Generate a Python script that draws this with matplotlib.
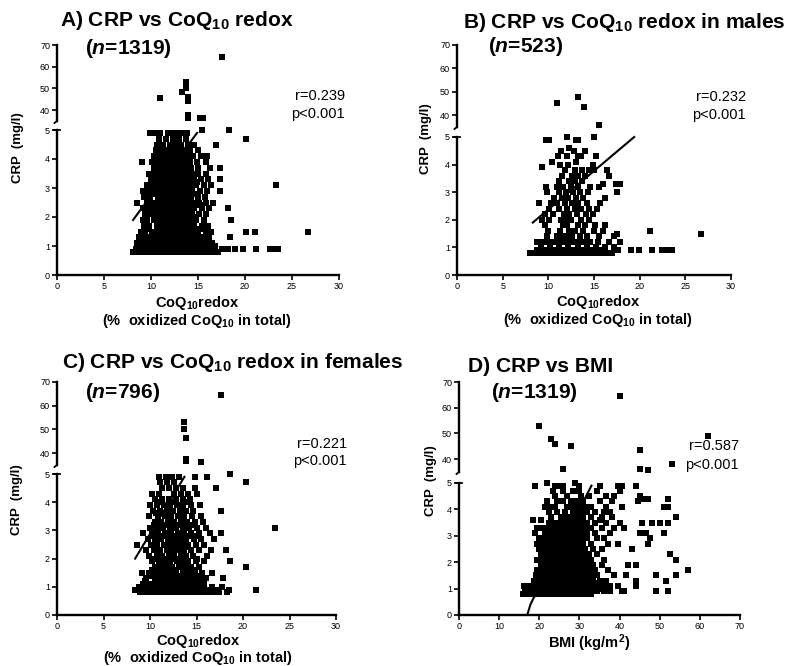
import matplotlib
matplotlib.use('Agg')
import matplotlib.pyplot as plt
from matplotlib.lines import Line2D

plt.rcParams['font.family'] = ['Liberation Sans', 'DejaVu Sans']
plt.rcParams['mathtext.fontset'] = 'custom'
plt.rcParams['mathtext.rm'] = 'Liberation Sans'
plt.rcParams['mathtext.bf'] = 'Liberation Sans:bold'
plt.rcParams['mathtext.it'] = 'Liberation Sans:italic:bold'

# ---------------- data ----------------
# Panel A: CRP vs CoQ10 redox (all), rows = (CRP, [redox values])
a_rows = [
    (0.8, [8.1, 8.6, 9.1, 9.6, 10.1, 10.6, 11.1, 11.6, 12.1, 12.6, 13.1, 13.6, 14.1, 14.6, 15.1, 15.6, 16.1, 16.6, 17.1]),
    (0.9, [8.4, 9.3, 10.3, 11.3, 12.3, 13.3, 14.3, 15.3, 16.3, 17.5, 18.2, 18.9, 19.8, 21.2, 22.7, 23.2, 23.5]),
    (1.0, [8.8, 9.8, 10.8, 11.8, 12.8, 13.8, 14.8, 15.8, 16.8]),
    (1.1, [8.5, 9.0, 9.5, 10.0, 10.5, 11.0, 11.5, 12.0, 12.5, 13.0, 13.5, 14.0, 14.5, 15.0, 15.5, 16.0, 16.5]),
    (1.2, [9.0, 10.0, 11.0, 12.0, 13.0, 14.0, 15.0, 16.0]),
    (1.3, [8.7, 9.2, 9.7, 10.2, 10.7, 11.2, 11.7, 12.2, 12.7, 13.2, 13.7, 14.2, 14.7, 15.2, 15.7, 16.2, 18.4]),
    (1.4, [9.2, 10.4, 11.5, 12.5, 13.6, 14.8, 16.0]),
    (1.5, [8.9, 9.4, 10.1, 10.6, 11.3, 11.8, 12.3, 12.8, 13.4, 13.9, 14.5, 15.0, 15.8, 16.4, 20.1, 21.1, 26.7]),
    (1.6, [9.6, 10.9, 12.0, 13.0, 14.0, 15.2]),
    (1.7, [9.3, 9.8, 10.6, 11.1, 11.6, 12.1, 12.6, 13.1, 13.6, 14.1, 14.6, 15.4, 16.1]),
    (1.9, [9.1, 9.6, 10.3, 11.0, 11.5, 12.0, 12.5, 13.0, 13.6, 14.2, 14.8, 15.6, 18.5]),
    (2.0, [10.3, 11.4, 12.4, 13.5, 14.6]),
    (2.1, [9.4, 10.0, 10.5, 11.2, 11.7, 12.2, 12.7, 13.3, 13.8, 14.4, 15.1, 15.9]),
    (2.3, [9.2, 9.8, 10.4, 10.9, 11.4, 11.9, 12.4, 12.9, 13.5, 14.0, 14.6, 15.4, 16.2, 18.2]),
    (2.4, [10.1, 11.1, 12.1, 13.1, 14.2, 15.2]),
    (2.5, [8.5, 9.6, 10.2, 10.8, 11.3, 11.8, 12.3, 12.8, 13.3, 13.9, 14.5, 15.1, 15.8, 16.6]),
    (2.7, [9.3, 9.9, 10.7, 11.2, 11.7, 12.2, 12.7, 13.2, 13.7, 14.3, 15.0, 15.7]),
    (2.8, [10.4, 11.5, 12.4, 13.5, 14.6]),
    (2.9, [9.1, 9.8, 10.4, 11.0, 11.6, 12.1, 12.6, 13.2, 13.8, 14.4, 15.2, 16.0, 17.3]),
    (3.1, [9.6, 10.2, 10.8, 11.3, 11.9, 12.4, 13.0, 13.5, 14.1, 14.8, 15.6, 16.4, 23.3]),
    (3.2, [10.5, 11.6, 12.6, 13.7, 14.9]),
    (3.3, [10.0, 10.6, 11.1, 11.7, 12.2, 12.8, 13.4, 14.0, 14.6, 15.3, 16.1, 17.3]),
    (3.5, [9.8, 10.4, 11.0, 11.5, 12.1, 12.7, 13.2, 13.8, 14.4, 15.0, 15.8]),
    (3.6, [10.7, 11.8, 12.9, 14.1]),
    (3.7, [10.3, 10.9, 11.4, 12.0, 12.6, 13.1, 13.7, 14.3, 15.0, 16.3, 17.3]),
    (3.9, [9.0, 10.1, 10.7, 11.3, 11.9, 12.5, 13.1, 13.6, 14.2, 14.9, 15.8]),
    (4.0, [11.0, 12.3, 13.6]),
    (4.1, [10.3, 10.9, 11.5, 12.1, 12.7, 13.3, 13.9, 14.5, 15.3, 16.0]),
    (4.3, [10.5, 11.2, 11.8, 12.4, 13.0, 13.6, 14.2, 15.0]),
    (4.5, [10.6, 11.3, 12.0, 12.6, 13.2, 13.9, 14.6, 16.9]),
    (4.7, [10.9, 11.6, 12.3, 13.0, 13.7, 20.1]),
    (4.9, [9.9, 10.4, 11.0, 11.8, 12.4, 12.9, 13.4, 13.8]),
    (5.0, [15.4, 18.3]),
]
a_high_redox = [11.0, 13.7, 13.7, 13.3, 13.9, 13.9, 13.9, 13.9, 15.2, 15.5, 17.6]
a_high_crp = [45.7, 53.1, 50.0, 48.2, 46.2, 44.3, 37.7, 36.6, 36.6, 36.6, 64.6]
a_fit_x = [8.1, 14.9]
a_fit_y = [1.9, 4.9]

# Panel B: males
b_rows = [
    (0.8, [8.0, 8.5, 9.0, 9.5, 10.0, 10.5, 11.0, 11.5, 12.0, 12.5, 13.0, 13.5, 14.0, 14.5, 15.0, 15.5, 16.0, 16.5, 17.0]),
    (0.9, [8.8, 9.8, 10.8, 11.8, 12.8, 13.8, 14.8, 15.8, 17.6, 19.0, 19.9, 21.4, 22.4, 23.0, 23.5]),
    (1.0, [9.2, 10.2, 11.2, 12.2, 13.2, 14.2, 15.2, 16.2, 17.2]),
    (1.2, [8.8, 9.3, 9.9, 10.5, 11.1, 11.6, 12.1, 12.7, 13.3, 13.9, 14.6, 15.4, 16.6, 17.8]),
    (1.4, [9.8, 10.9, 11.5, 12.0, 12.6, 13.5, 14.2, 15.6, 17.2]),
    (1.5, [17.5, 26.7]),
    (1.6, [10.0, 11.3, 12.3, 12.9, 13.8, 15.0, 16.0, 21.1]),
    (1.8, [9.6, 11.6, 12.0, 13.2, 14.0, 15.1, 16.2]),
    (2.0, [9.3, 10.1, 11.4, 11.9, 12.5, 13.6, 14.5]),
    (2.2, [9.6, 10.5, 11.7, 12.3, 13.1, 14.1, 14.9]),
    (2.4, [10.1, 11.2, 12.0, 12.9, 13.6, 14.4, 15.3]),
    (2.6, [9.0, 10.3, 10.9, 11.8, 12.6, 13.3, 14.2, 15.7]),
    (2.8, [10.6, 11.5, 12.1, 13.0, 13.8, 16.2]),
    (3.0, [9.9, 11.2, 11.9, 12.7, 13.5, 14.3, 17.5]),
    (3.2, [9.7, 11.0, 11.6, 12.5, 13.2, 14.6, 15.6]),
    (3.3, [16.0, 17.4, 17.8]),
    (3.4, [11.2, 12.3, 12.9, 13.7]),
    (3.6, [11.5, 12.6, 13.3, 14.0, 16.6]),
    (3.8, [11.8, 12.9, 13.7, 14.5, 15.0, 16.4]),
    (3.9, [9.3]),
    (4.0, [11.3, 12.2, 14.9]),
    (4.1, [10.4, 13.0]),
    (4.3, [11.1, 12.0, 13.3, 13.6, 15.2]),
    (4.5, [11.4, 12.8, 14.0]),
    (4.6, [12.3]),
    (4.9, [9.7, 10.1, 13.0, 13.3]),
    (5.0, [12.0, 15.0]),
]
b_high_redox = [10.9, 13.2, 13.9, 15.5]
b_high_crp = [45.2, 47.8, 43.5, 36.0]
b_fit_x = [8.3, 19.4]
b_fit_y = [1.9, 5.0]

# Panel C: females
c_rows = [
    (0.8, [8.9, 9.4, 9.9, 10.4, 10.9, 11.4, 11.9, 12.4, 12.9, 13.4, 13.9, 14.4, 14.9, 15.4, 15.9, 16.4, 16.9, 17.4, 18.3]),
    (0.9, [8.4, 9.2, 10.2, 11.2, 12.2, 13.2, 14.2, 15.2, 16.2, 17.2, 18.5, 21.4]),
    (1.0, [8.8, 9.7, 10.7, 11.7, 12.7, 13.7, 14.7, 15.7, 16.7, 17.7]),
    (1.1, [9.3, 9.8, 10.3, 10.8, 11.3, 11.8, 12.3, 12.8, 13.3, 13.8, 14.3, 14.8, 15.3, 15.8]),
    (1.2, [9.5, 10.5, 11.5, 12.5, 13.5, 14.5, 15.5]),
    (1.3, [9.6, 10.5, 11.0, 11.5, 12.0, 12.5, 13.0, 13.5, 14.0, 14.6, 15.1, 16.0, 17.8]),
    (1.4, [10.2, 11.3, 12.3, 13.3, 14.3, 15.4]),
    (1.5, [9.1, 9.9, 10.9, 11.6, 12.2, 12.8, 13.5, 14.1, 14.7, 15.6, 16.7]),
    (1.6, [10.2, 11.5, 12.6, 13.6, 14.8]),
    (1.7, [10.5, 11.2, 11.8, 12.4, 13.1, 13.8, 14.4, 15.3, 20.3]),
    (1.9, [10.2, 11.0, 11.6, 12.2, 12.9, 13.5, 14.1, 14.9, 15.8, 18.6]),
    (2.0, [10.4, 11.6, 12.8, 13.8, 15.1]),
    (2.1, [9.9, 10.7, 11.3, 12.0, 12.6, 13.3, 13.9, 14.6, 16.1]),
    (2.3, [9.6, 10.4, 11.1, 11.8, 12.4, 13.0, 13.7, 14.4, 15.3, 16.6, 18.2]),
    (2.4, [10.6, 11.8, 12.9, 14.0]),
    (2.5, [8.6, 10.1, 10.8, 11.5, 12.1, 12.8, 13.4, 14.1, 14.9, 15.8]),
    (2.7, [9.8, 10.5, 11.2, 11.9, 12.6, 13.2, 13.9, 14.7, 15.5, 16.9]),
    (2.8, [10.2, 11.5, 12.9, 14.2, 15.1]),
    (2.9, [9.3, 10.2, 10.9, 11.6, 12.3, 13.0, 13.7, 14.4, 15.3, 16.4, 17.6]),
    (3.1, [10.0, 10.7, 11.4, 12.1, 12.8, 13.5, 14.2, 15.0, 16.0, 23.4]),
    (3.2, [10.4, 11.7, 13.0, 14.4]),
    (3.3, [10.5, 11.2, 11.9, 12.6, 13.3, 14.0, 14.8, 15.7]),
    (3.5, [9.9, 10.9, 11.6, 12.3, 13.0, 13.7, 14.5, 15.5]),
    (3.6, [10.6, 12.0, 13.4]),
    (3.7, [10.3, 11.1, 11.8, 12.5, 13.2, 13.9, 14.6, 17.6]),
    (3.9, [10.0, 10.7, 11.5, 12.2, 12.9, 13.6, 14.4, 15.4]),
    (4.0, [11.0, 12.4, 13.9]),
    (4.1, [10.5, 11.3, 12.0, 12.8, 13.5, 14.3]),
    (4.3, [10.2, 11.0, 12.6, 13.3, 14.1, 15.0]),
    (4.5, [11.3, 12.0, 12.8, 13.6, 14.8, 17.1]),
    (4.7, [11.1, 11.8, 12.6, 20.3]),
    (4.9, [11.0, 11.7, 12.4, 13.1, 14.8, 16.1]),
    (5.0, [18.6]),
]
c_high_redox = [13.7, 13.7, 13.9, 13.9, 13.9, 15.5, 17.6]
c_high_crp = [53.0, 50.0, 46.3, 37.7, 36.6, 36.2, 64.6]
c_fit_x = [8.4, 13.7]
c_fit_y = [2.0, 4.9]

# Panel D: CRP vs BMI
d_rows = [
    (0.8, [16.0, 17.0, 18.0, 19.0, 20.0, 21.0, 22.0, 23.0, 24.0, 25.0, 26.0, 27.0, 28.0, 29.0, 30.0, 31.0, 32.0, 33.0]),
    (0.9, [16.5, 18.5, 20.5, 22.5, 24.5, 26.5, 28.5, 30.5, 32.5, 34.5, 36.0, 37.5, 40.5, 41.0, 49.0, 52.0]),
    (1.0, [17.0, 19.0, 21.0, 23.0, 25.0, 27.0, 29.0, 31.0, 33.0, 35.0]),
    (1.1, [16.3, 17.5, 18.5, 19.5, 20.5, 21.5, 22.5, 23.5, 24.5, 25.5, 26.5, 27.5, 28.5, 29.5, 30.5, 31.5, 32.5, 33.5, 34.5, 35.5, 36.5, 37.5, 39.5, 44.0]),
    (1.2, [19.5, 21.5, 23.5, 25.5, 27.5, 29.5, 31.5, 34.0]),
    (1.3, [18.8, 20.0, 21.0, 22.0, 23.0, 24.0, 25.0, 26.0, 27.0, 28.0, 29.0, 30.0, 31.0, 32.0, 33.5, 35.0, 36.5, 44.0, 51.5]),
    (1.4, [20.5, 22.5, 24.5, 26.5, 28.5, 30.5, 32.5]),
    (1.5, [19.2, 20.5, 21.5, 22.5, 23.5, 24.5, 25.5, 26.5, 27.5, 28.5, 29.5, 30.5, 31.5, 33.0, 34.5, 38.5, 41.5, 49.0, 54.0]),
    (1.6, [21.5, 23.5, 25.5, 27.5, 29.5]),
    (1.7, [19.5, 21.0, 22.0, 23.0, 24.0, 25.0, 26.0, 27.0, 28.0, 29.0, 30.0, 31.0, 32.5, 34.0, 37.0, 57.0]),
    (1.9, [20.5, 21.5, 22.5, 23.5, 24.5, 25.5, 26.5, 27.5, 28.5, 29.5, 30.5, 32.0, 33.5, 35.5, 42.0, 44.0]),
    (2.0, [21.5, 23.5, 25.5, 27.5, 29.5, 31.0]),
    (2.1, [19.5, 21.0, 22.0, 23.0, 24.0, 25.0, 26.0, 27.0, 28.0, 29.0, 30.0, 31.5, 33.0, 36.0, 54.0]),
    (2.3, [20.5, 21.5, 22.5, 23.5, 24.5, 25.5, 26.5, 27.5, 28.5, 29.5, 31.0, 32.5, 34.5, 52.5]),
    (2.4, [22.5, 24.5, 26.5, 28.5, 30.5]),
    (2.5, [20.0, 21.0, 22.0, 23.0, 24.0, 25.0, 26.0, 27.0, 28.0, 29.0, 30.0, 31.5, 33.5, 35.5, 43.0]),
    (2.7, [19.5, 20.5, 21.5, 22.5, 23.5, 24.5, 25.5, 26.5, 27.5, 28.5, 29.5, 31.0, 33.0, 37.0, 39.5, 47.0]),
    (2.8, [21.5, 23.5, 25.5, 27.5, 29.5]),
    (2.9, [20.0, 21.0, 22.0, 23.0, 24.0, 25.0, 26.0, 27.0, 28.0, 29.0, 30.5, 32.0, 34.5, 36.0, 47.5]),
    (3.1, [19.0, 21.5, 22.5, 23.5, 24.5, 25.5, 26.5, 27.5, 28.5, 29.5, 30.5, 32.0, 34.0, 37.5, 45.0, 46.5, 51.0]),
    (3.2, [22.5, 24.5, 26.5, 28.5, 30.5]),
    (3.3, [19.5, 21.0, 22.0, 23.0, 24.0, 25.0, 26.0, 27.0, 28.0, 29.0, 30.0, 31.5, 33.0, 35.5, 38.5, 41.0]),
    (3.5, [22.5, 23.5, 25.0, 26.5, 27.5, 28.5, 29.5, 30.5, 32.0, 34.0, 36.5, 40.0, 45.5, 48.0, 50.0, 52.0]),
    (3.6, [18.5, 20.5, 35.0]),
    (3.7, [23.0, 25.5, 27.0, 28.0, 29.0, 30.0, 31.0, 33.0, 35.5, 38.0, 54.0]),
    (3.9, [22.5, 24.5, 26.5, 28.5, 29.5, 30.5, 32.0, 34.0, 36.0, 37.5]),
    (4.1, [21.5, 22.5, 24.0, 27.0, 28.5, 30.0, 31.5, 33.0, 36.5, 40.5, 51.0, 52.0]),
    (4.3, [22.0, 24.5, 26.0, 28.0, 29.5, 31.0, 35.0, 38.0, 44.5]),
    (4.4, [46.0, 47.0, 52.0]),
    (4.5, [24.0, 27.0, 30.5, 32.5, 36.5, 38.5, 45.0]),
    (4.7, [23.5, 26.0, 28.5, 30.0, 34.5, 40.0]),
    (4.9, [19.0, 24.0, 25.0, 26.0, 30.0, 35.0, 39.5, 40.5, 44.0]),
    (5.0, [22.0, 29.0]),
]
d_high_bmi = [20.0, 23.0, 23.8, 28.0, 26.0, 40.0, 45.0, 45.0, 47.0, 53.0, 62.0]
d_high_crp = [53.0, 47.8, 46.0, 45.0, 36.0, 64.5, 43.5, 36.0, 35.6, 38.0, 49.0]
d_fit_x = [17.1, 17.8, 18.6, 19.4, 33.0]
d_fit_y = [0.05, 0.4, 0.65, 0.85, 4.9]

xticks_redox = [0, 5, 10, 15, 20, 25, 30]
xticks_bmi = [0, 10, 20, 30, 40, 50, 60, 70]
yticks_low = [0, 1, 2, 3, 4, 5]
yticks_high = [40, 50, 60, 70]

# ---------------- drawing ----------------
W, H = 792, 666
fig = plt.figure(figsize=(W / 100, H / 100), dpi=100)
NARROW = ['Liberation Sans Narrow', 'Liberation Sans']
MS = 21


def fx(px):
    return px / W


def fy(py):
    return 1 - py / H


def expand(rows):
    xs, ys = [], []
    for yv, xl in rows:
        for xv in xl:
            xs.append(xv)
            ys.append(yv)
    return xs, ys


def style_ticks(ax):
    ax.tick_params(direction='out', length=3.5, width=1.2, labelsize=6.5, pad=1.5)
    for lab in ax.get_xticklabels() + ax.get_yticklabels():
        lab.set_family(NARROW)


def panel(left, right, lo_bot, lo_top, up_bot, up_top, xmax, xticks,
          rows, hx, hy, fitx, fity):
    ax_lo = fig.add_axes([fx(left), fy(lo_bot), (right - left) / W, (lo_bot - lo_top) / H])
    ax_up = fig.add_axes([fx(left), fy(up_bot), (right - left) / W, (up_bot - up_top) / H])
    for ax in (ax_lo, ax_up):
        ax.set_xlim(0, xmax)
        ax.patch.set_visible(False)
        ax.spines['top'].set_visible(False)
        ax.spines['right'].set_visible(False)
        ax.spines['left'].set_linewidth(1.7)
        ax.spines['bottom'].set_linewidth(1.7)
    ax_lo.set_ylim(0, 5)
    ax_lo.set_xticks(xticks)
    ax_lo.set_yticks(yticks_low)
    ax_up.set_ylim(35, 70)
    ax_up.set_yticks(yticks_high)
    ax_up.spines['bottom'].set_visible(False)
    ax_up.set_xticks([])
    style_ticks(ax_lo)
    style_ticks(ax_up)
    xs, ys = expand(rows)
    ax_lo.scatter(xs, ys, marker='s', s=MS, color='black', linewidths=0, clip_on=False, zorder=3)
    ax_lo.plot(fitx, fity, color='black', lw=1.5, zorder=4, clip_on=False)
    ax_up.scatter(hx, hy, marker='s', s=MS, color='black', linewidths=0, clip_on=False, zorder=3)
    # axis-break marks
    fig.add_artist(Line2D([fx(left - 3), fx(left + 3)], [fy(lo_top), fy(lo_top)],
                          transform=fig.transFigure, color='black', lw=1.3))
    fig.add_artist(Line2D([fx(left), fx(left - 2.5)], [fy(up_bot), fy(up_bot + 2)],
                          transform=fig.transFigure, color='black', lw=1.3))
    return ax_lo, ax_up


panel(57, 339, 275, 130, 121, 45, 30, xticks_redox, a_rows, a_high_redox, a_high_crp, a_fit_x, a_fit_y)
panel(457, 731, 275, 137, 127, 45, 30, xticks_redox, b_rows, b_high_redox, b_high_crp, b_fit_x, b_fit_y)
panel(57, 336, 615, 474, 465, 382, 30, xticks_redox, c_rows, c_high_redox, c_high_crp, c_fit_x, c_fit_y)
panel(459, 740, 615, 483, 472, 382, 70, xticks_bmi, d_rows, d_high_bmi, d_high_crp, d_fit_x, d_fit_y)

TS = 15.1
# titles
fig.text(fx(60), fy(21), r"A) CRP vs CoQ$_{\mathbf{10}}$ redox", fontsize=TS, fontweight='bold', va='center')
fig.text(fx(85), fy(48), r"($n$=1319)", fontsize=TS, fontweight='bold', va='center')
fig.text(fx(463), fy(22), r"B) CRP vs CoQ$_{\mathbf{10}}$ redox in males", fontsize=TS, fontweight='bold', va='center')
fig.text(fx(488), fy(47), r"($n$=523)", fontsize=TS, fontweight='bold', va='center')
fig.text(fx(62), fy(363), r"C) CRP vs CoQ$_{\mathbf{10}}$ redox in females", fontsize=TS, fontweight='bold', va='center')
fig.text(fx(85), fy(393), r"($n$=796)", fontsize=TS, fontweight='bold', va='center')
fig.text(fx(468), fy(366), r"D) CRP vs BMI", fontsize=TS, fontweight='bold', va='center')
fig.text(fx(491), fy(393), r"($n$=1319)", fontsize=TS, fontweight='bold', va='center')

# y labels
for x0, y0 in [(18, 148), (426, 139), (17, 500), (431, 481)]:
    fig.text(fx(x0), fy(y0), "CRP  (mg/l)", fontsize=9.5, fontweight='bold', rotation=90,
             ha='center', va='center')

# x labels
XS = 10.5
for x0, y1, y2 in [(197, 303, 321), (598, 302, 320), (198, 641, 658)]:
    fig.text(fx(x0), fy(y1), r"CoQ$_{\mathbf{10}}$redox", fontsize=XS, fontweight='bold', ha='center', va='center')
    fig.text(fx(x0), fy(y2), r"(%  oxidized CoQ$_{\mathbf{10}}$ in total)", fontsize=XS, fontweight='bold',
             ha='center', va='center')
fig.text(fx(589), fy(643), r"BMI (kg/m$^{\mathbf{2}}$)", fontsize=XS, fontweight='bold', ha='center', va='center')

# statistics
SS = 10.5
for xr, yr, yp, r in [(345, 96, 114, "r=0.239"), (746, 97, 115, "r=0.232"),
                      (347, 444, 461, "r=0.221"), (739, 446, 465, "r=0.587")]:
    fig.text(fx(xr), fy(yr), r, fontsize=SS, ha='right', va='center')
    fig.text(fx(xr), fy(yp), "p<0.001", fontsize=SS, ha='right', va='center')

fig.savefig('out.png', dpi=100)
